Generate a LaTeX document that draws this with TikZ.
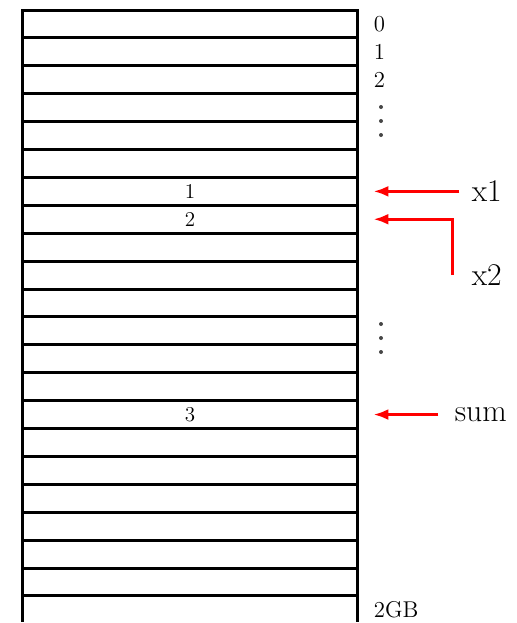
\documentclass[tikz,border=0pt]{standalone}
\usepackage{tikz}
\usetikzlibrary{arrows.meta, positioning}
\definecolor{PtrRed}{RGB}{255, 0, 0}
\definecolor{DotGray}{RGB}{70, 70, 70}
\tikzset{
  cell/.style={rectangle, draw=black, line width=1.7pt,
               minimum width=6.72cm, minimum height=0.558cm, inner sep=0pt},
  val/.style={inner sep=0pt, font=\fontsize{12}{12}\selectfont},
  addr/.style={inner sep=0pt, font=\fontsize{13}{13}\selectfont},
  ptr/.style={inner sep=0pt, font=\fontsize{18}{18}\selectfont},
  arr/.style={-{Latex[length=3mm, width=2.2mm]}, line width=1.6pt,
              color=#1, shorten >=2.8mm},
}
\begin{document}
\begin{tikzpicture}[x=0.02cm, y=-0.02cm]
  \useasboundingbox (0,0) rectangle (517,623);
  \clip (0,0) rectangle (517,621);
  \foreach \i in {0,...,21}
    \node[cell] (c\i) at (190,{23.95+27.9*\i}) {};
  \node[val] (v1) at (c6) {1};
  \node[val] (v2) at (c7) {2};
  \node[val] (v3) at (c14) {3};
  \node[addr, right=0.28cm of c0] (a0) {0};
  \node[addr, right=0.28cm of c1] (a1) {1};
  \node[addr, right=0.28cm of c2] (a2) {2};
  \node[addr, right=0.28cm of c21] (aend) {2GB};
  \coordinate (gap1) at (381,121);
  \coordinate (gap2) at (381,338);
  \foreach \d in {-14,0,14} {
    \fill[DotGray] (gap1) ++(0,\d) circle (2);
    \fill[DotGray] (gap2) ++(0,\d) circle (2);
  }
  \node[ptr, right=2.24cm of c6] (x1) {x1};
  \node[ptr, right=2.24cm of c9] (x2) {x2};
  \node[ptr, right=1.9cm of c14] (sum) {sum};
  \draw[arr=PtrRed, shorten <=2.4mm] (x1) -- (c6);
  \draw[arr=PtrRed] ([xshift=-3.8mm]x2.west) |- (c7.east);
  \draw[arr=PtrRed, shorten <=3.2mm] (sum) -- (c14);
\end{tikzpicture}
\end{document}
